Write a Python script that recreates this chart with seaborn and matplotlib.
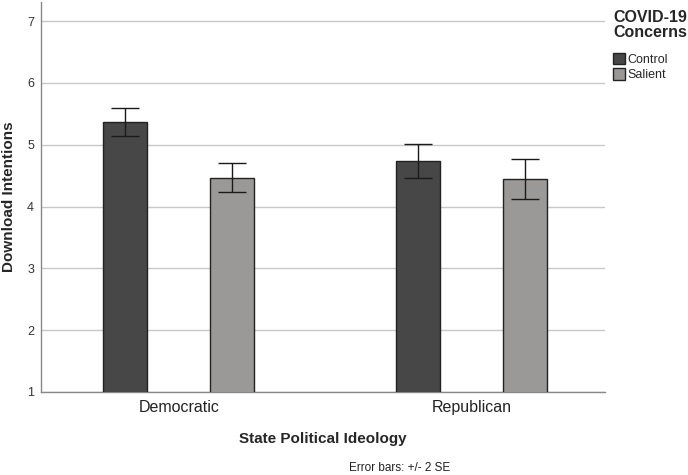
import pandas as pd
import numpy as np
import matplotlib
matplotlib.use('Agg')
import matplotlib.pyplot as plt
import seaborn as sns
from matplotlib.patches import Patch

sns.set_style('white')
plt.rcParams['font.family'] = ['Liberation Sans', 'DejaVu Sans']

ideology = ['Democratic', 'Democratic', 'Republican', 'Republican']
concerns = ['Control', 'Salient', 'Control', 'Salient']
means = [5.37, 4.46, 4.74, 4.44]
err_low = [5.15, 4.23, 4.46, 4.12]
err_high = [5.60, 4.70, 5.02, 4.77]

df = pd.DataFrame({'Ideology': ideology, 'Concerns': concerns, 'Mean': means,
                   'Low': err_low, 'High': err_high})
palette = {'Control': '#474747', 'Salient': '#9b9797'}

fig = plt.figure(figsize=(6.88, 4.75), dpi=100)
ax = fig.add_axes([41 / 688, 1 - 392 / 475, (605 - 41) / 688, (392 - 2) / 475])

sns.barplot(data=df, x='Ideology', y='Mean', hue='Concerns', palette=palette,
            width=0.732, gap=0.59, errorbar=None, edgecolor='#222222',
            linewidth=1.0, legend=False, ax=ax, zorder=3)

# error bars drawn at each bar's centre
for bar, (_, row) in zip(ax.patches, df.sort_values('Concerns').iterrows()):
    cx = bar.get_x() + bar.get_width() / 2
    ax.errorbar(cx, row['Mean'],
                yerr=[[row['Mean'] - row['Low']], [row['High'] - row['Mean']]],
                fmt='none', ecolor='#1a1a1a', elinewidth=1.0, capsize=10,
                capthick=1.0, zorder=4)

ax.set_ylim(1, 7.31)
ax.set_xlim(-0.47, 1.455)
ax.set_yticks(range(1, 8))
ax.yaxis.grid(True, color='#c8c8c8', linewidth=1.0, zorder=0)
ax.set_axisbelow(True)
for s in ['top', 'right']:
    ax.spines[s].set_visible(False)
for s in ['left', 'bottom']:
    ax.spines[s].set_color('#888888')
    ax.spines[s].set_linewidth(1.0)
ax.tick_params(axis='y', labelsize=9, colors='#333333', length=0, pad=5)
ax.tick_params(axis='x', labelsize=11.5, colors='#222222', length=0, pad=6)
ax.set_ylabel('Download Intentions', fontsize=11, fontweight='bold', labelpad=8)
ax.set_xlabel('State Political Ideology', fontsize=11, fontweight='bold',
              labelpad=12)

fig.text(400 / 688, 1 - 468 / 475, 'Error bars: +/- 2 SE', fontsize=8.5,
         ha='center', va='center', color='#222222')

handles = [Patch(facecolor=palette[k], edgecolor='#222222', label=k)
           for k in ['Control', 'Salient']]
leg = fig.legend(handles=handles, title='COVID-19\nConcerns',
                 loc='upper left', bbox_to_anchor=(603 / 688, 1.0),
                 frameon=False, fontsize=9, handlelength=0.95,
                 handleheight=1.05, handletextpad=0.2, labelspacing=0.2,
                 borderpad=0.3)
leg.get_title().set_fontweight('bold')
leg.get_title().set_fontsize(11.5)
leg.get_title().set_linespacing(1.0)
leg._legend_box.align = 'left'
leg._legend_box.sep = 9

fig.savefig('out.png', dpi=100)
